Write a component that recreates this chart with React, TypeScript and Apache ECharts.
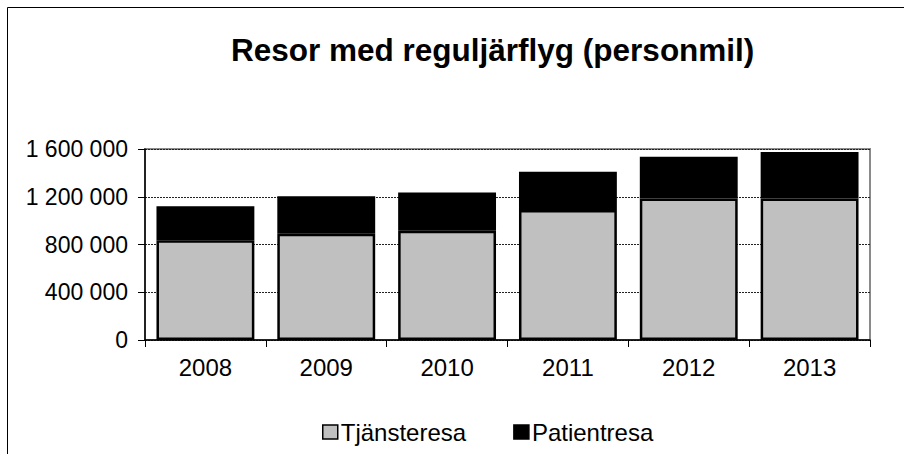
import React, { useEffect, useRef } from "react";
import * as echarts from "echarts";

const years = ["2008", "2009", "2010", "2011", "2012", "2013"];
const tjansteresa = [835000, 890000, 915000, 1090000, 1185000, 1185000];
const patientresa = [285000, 315000, 320000, 320000, 350000, 390000];
const yTicks = { min: 0, max: 1600000, interval: 400000 };

const fmt = (v: number) => String(v).replace(/\B(?=(\d{3})+(?!\d))/g, " ");

export default function App() {
  const ref = useRef<HTMLDivElement>(null);
  useEffect(() => {
    if (!ref.current) return;
    const chart = echarts.init(ref.current, null, { renderer: "svg" });
    const font = "'Liberation Sans', Arial, sans-serif";
    chart.setOption({
      animation: false,
      backgroundColor: "#ffffff",
      textStyle: { fontFamily: font, color: "#000" },
      title: {
        text: "Resor med reguljärflyg (personmil)",
        left: 226,
        top: 29,
        textStyle: { fontFamily: font, fontWeight: "bold", fontSize: 31.5, color: "#000" },
      },
      graphic: [
        {
          type: "rect",
          shape: { x: 7.5, y: 7.5, width: 1200, height: 1200 },
          style: { fill: "none", stroke: "#000", lineWidth: 1 },
          silent: true,
          z: 100,
        },
      ],
      legend: {
        left: 317,
        top: 415,
        itemWidth: 15,
        itemHeight: 14,
        itemGap: 47,
        icon: "rect",
        textStyle: { fontFamily: font, fontSize: 24, color: "#000", padding: [0, 0, 0, -2] },
        data: [
          { name: "Tjänsteresa", itemStyle: { color: "#c0c0c0", borderColor: "#000", borderWidth: 1.5 } },
          { name: "Patientresa", itemStyle: { color: "#000", borderColor: "#000", borderWidth: 1.5 } },
        ],
      },
      grid: {
        left: 145,
        top: 149,
        width: 725,
        height: 191,
        show: true,
        borderColor: "#8a8a8a",
        borderWidth: 2,
        backgroundColor: "transparent",
      },
      xAxis: {
        type: "category",
        data: years,
        axisLine: { lineStyle: { color: "#000", width: 1.5 } },
        axisTick: { show: true, length: 7, inside: false, lineStyle: { color: "#000", width: 1 } },
        axisLabel: { fontFamily: font, fontSize: 24, color: "#000", margin: 15 },
      },
      yAxis: {
        type: "value",
        min: yTicks.min,
        max: yTicks.max,
        interval: yTicks.interval,
        axisLine: { show: true, lineStyle: { color: "#000", width: 1.5 } },
        axisTick: { show: true, length: 7, lineStyle: { color: "#000", width: 1 } },
        axisLabel: { fontFamily: font, fontSize: 23, color: "#000", margin: 17, formatter: (v: number) => fmt(v) },
        splitLine: { show: true, lineStyle: { color: "#222", width: 1, type: [2, 1] } },
      },
      series: [
        {
          name: "Tjänsteresa",
          type: "bar",
          stack: "total",
          data: tjansteresa,
          barCategoryGap: "19%",
          itemStyle: { color: "#c0c0c0", borderColor: "#000", borderWidth: 2.5 },
        },
        {
          name: "Patientresa",
          type: "bar",
          stack: "total",
          data: patientresa,
          barCategoryGap: "19%",
          itemStyle: { color: "#000", borderColor: "#000", borderWidth: 2.5 },
        },
      ],
    });
    return () => chart.dispose();
  }, []);
  return (
    <div
      ref={ref}
      style={{ position: "fixed", left: 0, top: 0, width: 904, height: 454 }}
    />
  );
}
